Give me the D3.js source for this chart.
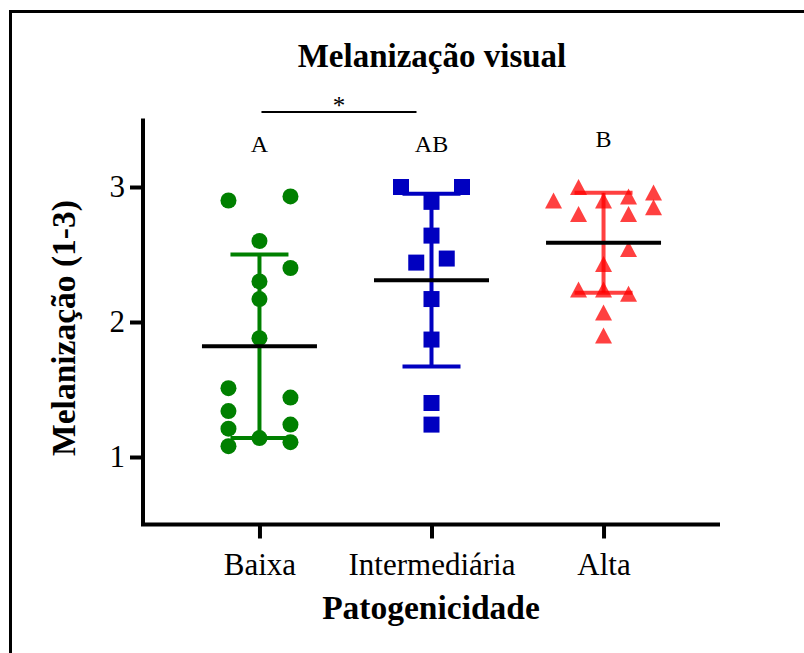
<!DOCTYPE html>
<html>
<head>
<meta charset="utf-8">
<script src="https://cdn.jsdelivr.net/npm/d3@7"></script>
<style>
  body { margin: 0; background: #fff; }
  text { font-family: "Liberation Serif", "Times New Roman", serif; fill: #000; }
</style>
</head>
<body>
<div id="chart"></div>
<script>
// Groups and their values (Melanização, 1-3)
var categories = ["Baixa", "Intermediária", "Alta"];

var baixa = [2.90, 2.93, 2.60, 2.40, 2.30, 2.17, 1.88, 1.51, 1.44, 1.34, 1.21, 1.24, 1.14, 1.08, 1.11];
var baixaSlots = [-1, 1, 0, 1, 0, 0, 0, -1, 1, -1, -1, 1, 0, -1, 1];

var intermediaria = [3.00, 3.00, 2.89, 2.64, 2.44, 2.47, 2.17, 1.87, 1.40, 1.24];
var intermediariaSlots = [-1, 1, 0, 0, -0.5, 0.5, 0, 0, 0, 0];

var alta = [3.00, 2.90, 2.90, 2.93, 2.96, 2.80, 2.80, 2.85, 2.54, 2.43, 2.24, 2.24, 2.21, 2.07, 1.90];
var altaSlots = [-1, -2, 0, 1, 2, -1, 1, 2, 1, 0, -1, 0, 1, 0, 0];

// mean and SD per group
var means = [1.82, 2.31, 2.587];
var sds = [0.68, 0.64, 0.37];

var letters = ["A", "AB", "B"];
var yTicks = [1, 2, 3];

var colors = ["#008000", "#0000c0", "#ff0000"];

var width = 804, height = 653;

var svg = d3.select('#chart')
            .append('svg')
            .attr('width', width)
            .attr('height', height);

// frame
svg.append('rect')
   .attr('x', 10.5).attr('y', 11.5)
   .attr('width', 900).attr('height', 900)
   .attr('fill', 'none')
   .attr('stroke', '#000')
   .attr('stroke-width', 3);

var x = d3.scalePoint()
          .domain(categories)
          .range([143, 720])
          .padding(0.677);

var y = d3.scaleLinear()
          .domain([0.5, 3.5])
          .range([524.5, 119.5]);

// axes
var x_axis = d3.axisBottom(x)
               .tickSizeInner(14)
               .tickSizeOuter(0)
               .tickPadding(14);

var y_axis = d3.axisLeft(y)
               .tickValues(yTicks)
               .tickFormat(d3.format('d'))
               .tickSizeInner(13)
               .tickSizeOuter(0)
               .tickPadding(5);

var gx = svg.append('g')
   .attr('transform', 'translate(0,' + y(0.5) + ')')
   .call(x_axis);

var gy = svg.append('g')
   .attr('transform', 'translate(143,0)')
   .call(y_axis);

[gx, gy].forEach(function(g) {
  g.selectAll('path, line').attr('stroke', '#000').attr('stroke-width', 4);
  g.selectAll('text').style('font-size', '31px').attr('fill', '#000');
});
gy.select('.domain').attr('d', 'M0,' + y(0.5) + 'V' + (y(3.5) - 1));
gx.select('.domain').attr('d', 'M141,0H' + x.range()[1]);

// points
var groups = [
  {values: baixa, slots: baixaSlots, spacing: 31, shape: 'circle'},
  {values: intermediaria, slots: intermediariaSlots, spacing: 30.5, shape: 'square'},
  {values: alta, slots: altaSlots, spacing: 25, shape: 'triangle'}
];

var triangle = {
  draw: function(ctx, size) {
    var w = 8.5, h = 8;
    ctx.moveTo(0, -h);
    ctx.lineTo(w, h);
    ctx.lineTo(-w, h);
    ctx.closePath();
  }
};

groups.forEach(function(gr, i) {
  var cx = x(categories[i]);
  var g = svg.append('g');
  var sel = g.selectAll('.pt')
             .data(gr.values)
             .enter();
  if (gr.shape === 'circle') {
    sel.append('circle')
       .attr('cx', function(d, j) { return cx + gr.slots[j] * gr.spacing; })
       .attr('cy', function(d) { return y(d); })
       .attr('r', 8)
       .attr('fill', colors[i]);
  } else if (gr.shape === 'square') {
    sel.append('rect')
       .attr('x', function(d, j) { return cx + gr.slots[j] * gr.spacing - 8; })
       .attr('y', function(d) { return y(d) - 8; })
       .attr('width', 16).attr('height', 16)
       .attr('fill', colors[i]);
  } else {
    sel.append('path')
       .attr('d', d3.symbol().type(triangle))
       .attr('transform', function(d, j) {
         return 'translate(' + (cx + gr.slots[j] * gr.spacing) + ',' + y(d) + ')';
       })
       .attr('fill', colors[i])
       .attr('fill-opacity', 0.75);
  }
});

// error bars (mean ± SD) and mean lines
categories.forEach(function(c, i) {
  var cx = x(c);
  var op = i === 2 ? 0.75 : 1;
  var eb = svg.append('g')
              .attr('stroke', colors[i])
              .attr('stroke-width', 4)
              .attr('stroke-opacity', op);
  eb.append('line')
    .attr('x1', cx).attr('x2', cx)
    .attr('y1', y(means[i] - sds[i])).attr('y2', y(means[i] + sds[i]));
  [means[i] - sds[i], means[i] + sds[i]].forEach(function(v) {
    eb.append('line')
      .attr('x1', cx - 29).attr('x2', cx + 29)
      .attr('y1', y(v)).attr('y2', y(v));
  });
  svg.append('line')
     .attr('x1', cx - 57.5).attr('x2', cx + 57.5)
     .attr('y1', y(means[i])).attr('y2', y(means[i]))
     .attr('stroke', '#000')
     .attr('stroke-width', 4);
});

// group letters
var letterY = [152, 152, 147];
svg.selectAll('.letter')
   .data(letters)
   .enter()
   .append('text')
   .attr('x', function(d, i) { return x(categories[i]); })
   .attr('y', function(d, i) { return letterY[i]; })
   .attr('text-anchor', 'middle')
   .style('font-size', '24px')
   .text(function(d) { return d; });

// significance bracket
svg.append('line')
   .attr('x1', x(categories[0]) + 2).attr('x2', x(categories[1]) - 15)
   .attr('y1', 112).attr('y2', 112)
   .attr('stroke', '#000')
   .attr('stroke-width', 2);

svg.append('text')
   .attr('x', (x(categories[0]) + x(categories[1]) - 13) / 2)
   .attr('y', 114)
   .attr('text-anchor', 'middle')
   .style('font-size', '25px')
   .text('*');

// titles
svg.append('text')
   .attr('x', 432).attr('y', 67)
   .attr('text-anchor', 'middle')
   .style('font-size', '33px')
   .style('font-weight', 'bold')
   .text('Melanização visual');

svg.append('text')
   .attr('x', 431).attr('y', 619)
   .attr('text-anchor', 'middle')
   .style('font-size', '33.5px')
   .style('font-weight', 'bold')
   .text('Patogenicidade');

svg.append('text')
   .attr('transform', 'translate(75,328) rotate(-90)')
   .attr('text-anchor', 'middle')
   .style('font-size', '33.5px')
   .style('font-weight', 'bold')
   .text('Melanização (1-3)');
</script>
</body>
</html>
